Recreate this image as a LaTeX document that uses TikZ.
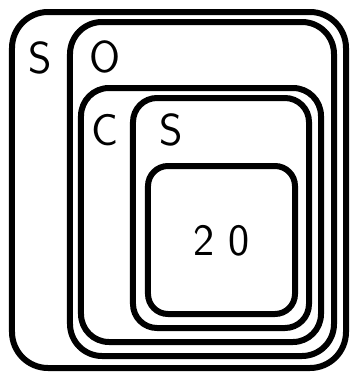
\documentclass[tikz,border=0pt]{standalone}
\begin{document}
\begin{tikzpicture}[x=1bp,y=-1bp,
  box/.style={draw=black,line width=6bp,rectangle,inner sep=0pt,fill=none},
  lbl/.style={inner sep=0pt,font=\sffamily\fontsize{45}{45}\selectfont}]
\useasboundingbox (0,0) rectangle (353,375);
\node[box,minimum width=334bp,minimum height=356bp,rounded corners=36bp] (souter) at (179,190) {};
\node[box,minimum width=264bp,minimum height=334bp,rounded corners=32bp] (o) at (202,189) {};
\node[box,minimum width=240bp,minimum height=254bp,rounded corners=28bp] (c) at (201,215) {};
\node[box,minimum width=176bp,minimum height=230bp,rounded corners=24bp] (sinner) at (221,213) {};
\node[box,minimum width=147bp,minimum height=148bp,rounded corners=20bp] (twenty) at (221.5,240) {};
\node[lbl] (ls1) at (40,58) {S};
\node[lbl] (lo) at (105,57) {O};
\node[lbl] (lc) at (105,130) {C};
\node[lbl] (ls2) at (171,130) {S};
\node[lbl] (l20) at (222,241) {2\hspace{14bp}0};
\end{tikzpicture}
\end{document}
